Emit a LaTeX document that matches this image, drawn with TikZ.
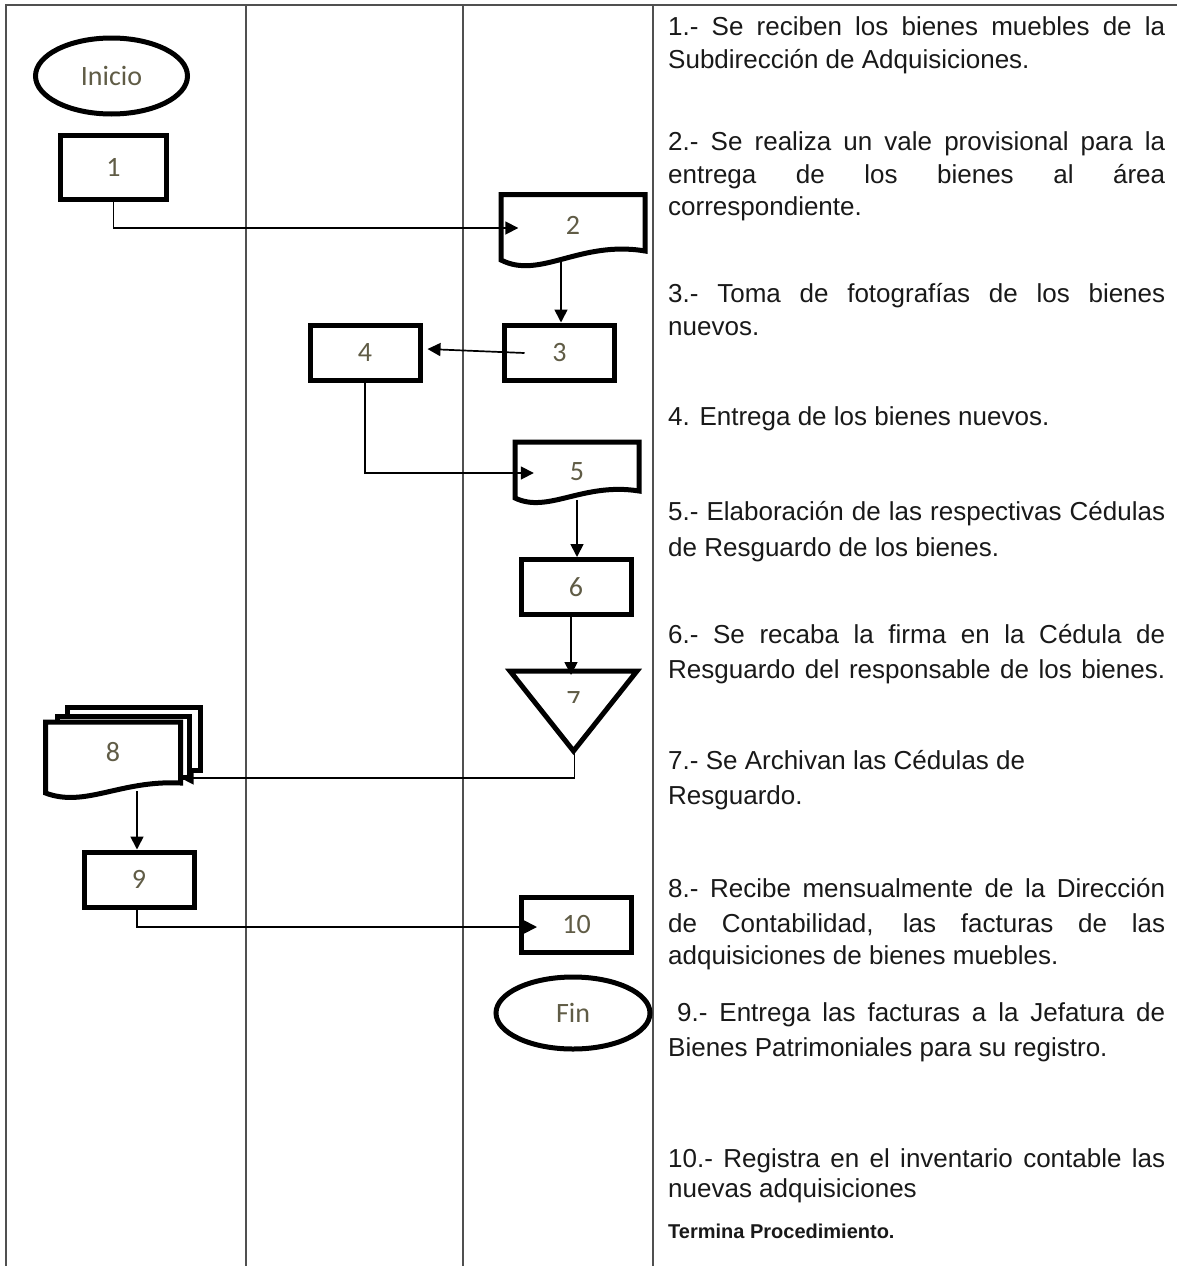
\documentclass[tikz,border=0pt]{standalone}
\usepackage{fontspec}
\setmainfont{Liberation Sans}
\newfontfamily\labfont{Carlito}
\usetikzlibrary{arrows.meta,calc,shapes.geometric}
\definecolor{labc}{RGB}{96,92,70}
\definecolor{gridc}{RGB}{80,80,80}
\definecolor{txtc}{RGB}{25,25,25}
\newcommand\jl[1]{\makebox[497pt][s]{#1}}
\begin{document}
\begin{tikzpicture}[x=1pt,y=-1pt,
  shp/.style={draw=black,line width=5pt,fill=white},
  lab/.style={font=\labfont\fontsize{28}{32}\selectfont,text=labc},
  proc/.style={shp,lab,rectangle,minimum width=110pt,minimum height=55pt,inner sep=0pt},
  term/.style={shp,lab,ellipse,inner sep=0pt},
  body/.style={lab,inner sep=0pt},
  conn/.style={draw=black,line width=1.7pt,-{Triangle[length=13pt,width=13pt]}},
  gridl/.style={draw=gridc,line width=1.3pt},
  txt/.style={inner sep=0pt,anchor=base west,font=\fontsize{26}{30}\selectfont,text=txtc}]
\useasboundingbox (0,0) rectangle (1177,1266);
\fill[white] (0,0) rectangle (1177,1266);

% lanes
\draw[gridl] (5,5) -- (1177,5);
\draw[gridl] (6,5) -- (6,1266);
\draw[gridl] (246,5) -- (246,1266);
\draw[gridl] (463,5) -- (463,1266);
\draw[gridl] (653,5) -- (653,1266);

% start
\node[term,minimum width=152pt,minimum height=76pt] (ini) at (111.5,76) {Inicio};
\node[proc,minimum width=106pt,minimum height=64pt] (b1) at (113.5,167) {1};

% document 2
\draw[shp] (501,260) -- (501,194.5) -- (645,194.5) -- (645,251)
  .. controls (580,240) and (540,280) .. (501,260) -- cycle;
\node[body,minimum width=144pt,minimum height=61pt] (d2) at (573,225) {2};

\node[proc] (b3) at (559.5,352.5) {3};
\node[proc] (b4) at (365,352.5) {4};

% document 5
\draw[shp] (515,498) -- (515,442) -- (639,442) -- (639,491)
  .. controls (583,482) and (548,514) .. (515,498) -- cycle;
\node[body,minimum width=124pt,minimum height=60pt] (d5) at (577,472) {5};

\node[proc] (b6) at (576,587) {6};

% triangle 7
\draw[shp,line join=miter] (510,671) -- (637,671) -- (573.5,751) -- cycle;
\node[inner sep=0pt,minimum width=127pt,minimum height=80pt] (t7) at (573.5,711) {};
\begin{scope}
  \clip (550,680) rectangle (600,702);
  \node[lab,inner sep=0pt] (t7lab) at (573.5,701) {7};
\end{scope}

% multi-document 8
\draw[shp] (67,707) rectangle (200,770);
\draw[shp] (57,716) rectangle (189,777);
\draw[shp] (45.5,793) -- (45.5,722) -- (180.5,722) -- (180.5,783)
  .. controls (120,780) and (85,808) .. (45.5,793) -- cycle;
\node[body,minimum width=135pt,minimum height=61pt] (m8) at (113,752) {8};

\node[proc] (b9) at (139,879.5) {9};
\node[proc] (b10) at (576.5,924.5) {10};
\node[term,minimum width=154pt,minimum height=72pt] (fin) at (573,1013) {Fin};

% connector end points
\coordinate (d2in) at ([shift={(17.5,3)}]d2.west);
\coordinate (d2out) at (561,259);
\coordinate (d5in) at ([shift={(19,1)}]d5.west);
\coordinate (d5out) at (577,500);
\coordinate (t7in) at (571,675);
\coordinate (m8in) at ([shift={(0,26)}]m8.east);
\coordinate (m8out) at (137,791);
\coordinate (b10in) at ([shift={(-97,2.5)}]b10.east);

% connectors
\draw[conn] (b1.south) |- (d2in);
\draw[conn] (d2out) -- (d2out |- b3.north);
\draw[conn] ([shift={(-35,0.5)}]b3.center) -- ([shift={(5,-3.5)}]b4.east);
\draw[conn] (b4.south) |- (d5in);
\draw[conn] (d5out) -- (d5out |- b6.north);
\draw[conn] (b6.south -| t7in) -- (t7in);
\draw[conn] ([xshift=1pt]t7.south) |- (m8in);
\draw[conn] (m8out) -- (m8out |- b9.north);
\draw[conn] ([xshift=-2pt]b9.south) |- (b10in);

% description text
\node[txt] (p1a) at (668,35) {\jl{1.- Se reciben los bienes muebles de la}};
\node[txt] (p1b) at (668,68) {Subdirección de Adquisiciones.};
\node[txt] (p2a) at (668,150) {\jl{2.- Se realiza un vale provisional para la}};
\node[txt] (p2b) at (668,183) {\jl{entrega de los bienes al área}};
\node[txt] (p2c) at (668,215) {correspondiente.};
\node[txt] (p3a) at (668,302) {\jl{3.- Toma de fotografías de los bienes}};
\node[txt] (p3b) at (668,335) {nuevos.};
\node[txt] (p4a) at (668,425) {4. Entrega de los bienes nuevos.};
\node[txt] (p5a) at (668,520) {\jl{5.- Elaboración de las respectivas Cédulas}};
\node[txt] (p5b) at (668,556) {de Resguardo de los bienes.};
\node[txt] (p6a) at (668,643) {\jl{6.- Se recaba la firma en la Cédula de}};
\node[txt] (p6b) at (668,678) {\jl{Resguardo del responsable de los bienes.}};
\node[txt] (p7a) at (668,769) {7.- Se Archivan las Cédulas de};
\node[txt] (p7b) at (668,804) {Resguardo.};
\node[txt] (p8a) at (668,897) {\jl{8.- Recibe mensualmente de la Dirección}};
\node[txt] (p8b) at (668,932) {\jl{de Contabilidad, las facturas de las}};
\node[txt] (p8c) at (668,964) {adquisiciones de bienes muebles.};
\node[txt] (p9a) at (677,1021) {\makebox[488pt][s]{9.- Entrega las facturas a la Jefatura de}};
\node[txt] (p9b) at (668,1056) {Bienes Patrimoniales para su registro.};
\node[txt] (p10a) at (668,1167) {\jl{10.- Registra en el inventario contable las}};
\node[txt] (p10b) at (668,1197) {nuevas adquisiciones};
\node[txt,font=\bfseries\fontsize{20}{24}\selectfont] (p11) at (668,1238) {Termina Procedimiento.};
\end{tikzpicture}
\end{document}
